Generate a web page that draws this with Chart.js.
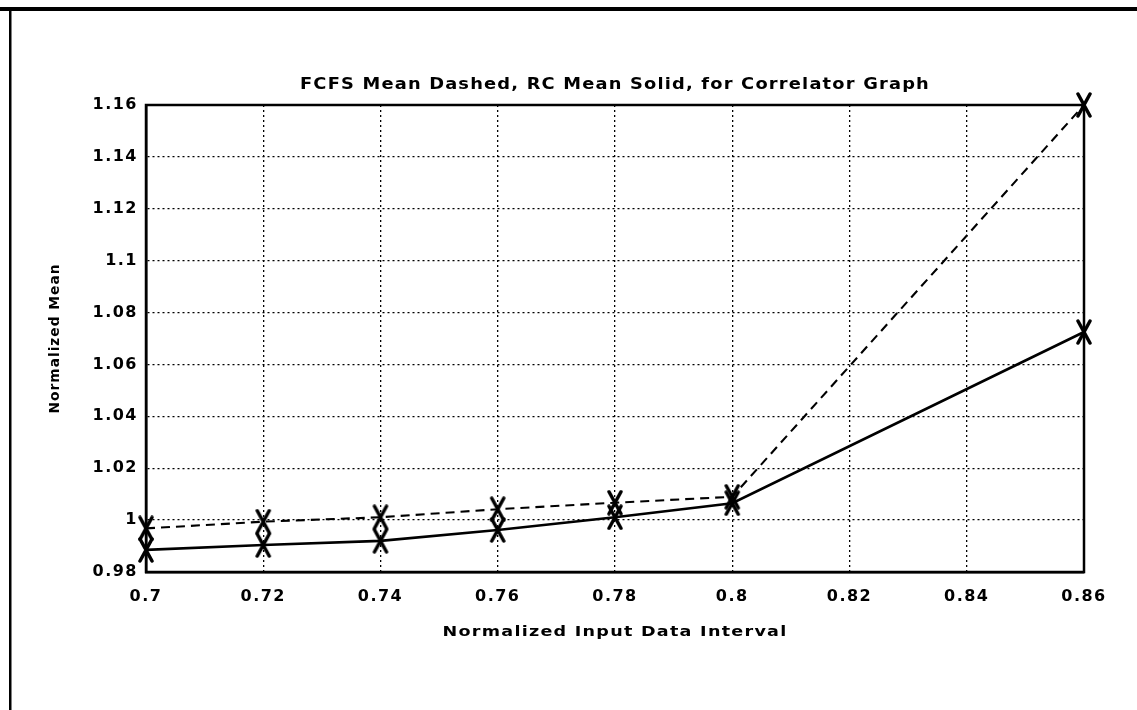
<!DOCTYPE html>
<html>
<head>
<meta charset="utf-8">
<title>FCFS / RC Mean</title>
<script src="https://cdn.jsdelivr.net/npm/chart.js@4.4.1/dist/chart.umd.min.js"></script>
<style>
    html, body { margin: 0; padding: 0; background: #fff; }
    #wrap { width: 1137px; height: 710px; }
</style>
</head>
<body>
<div id="wrap"><canvas id="meanChart" width="1137" height="710"></canvas></div>
<script>
// ── Data ──────────────────────────────────────────────────────────────────
const xValues  = [0.70, 0.72, 0.74, 0.76, 0.78, 0.80, 0.86];
const fcfsMean = [0.9968, 0.9994, 1.0011, 1.0042, 1.0067, 1.0090, 1.1600]; // dashed
const rcMean   = [0.9885, 0.9904, 0.9920, 0.9962, 1.0011, 1.0065, 1.0725]; // solid

const xTicks      = [0.70, 0.72, 0.74, 0.76, 0.78, 0.80, 0.82, 0.84, 0.86];
const xTickLabels = ['0.7', '0.72', '0.74', '0.76', '0.78', '0.8', '0.82', '0.84', '0.86'];
const yTicks      = [0.98, 1.00, 1.02, 1.04, 1.06, 1.08, 1.10, 1.12, 1.14, 1.16];
const yTickLabels = ['0.98', '1', '1.02', '1.04', '1.06', '1.08', '1.1', '1.12', '1.14', '1.16'];

const titleText  = 'FCFS Mean Dashed, RC Mean Solid, for Correlator Graph';
const xAxisLabel = 'Normalized Input Data Interval';
const yAxisLabel = 'Normalized Mean';

const FONT = '"DejaVu Sans", sans-serif';

// ── X marker (tall cross like the plotter output) ─────────────────────────
function makeCross() {
    const c = document.createElement('canvas');
    c.width = 18; c.height = 26;
    const g = c.getContext('2d');
    g.strokeStyle = '#000';
    g.lineWidth = 3.5;
    g.lineCap = 'round';
    g.beginPath();
    g.moveTo(3, 2);  g.lineTo(15, 24);
    g.moveTo(15, 2); g.lineTo(3, 24);
    g.stroke();
    return c;
}
const cross = makeCross();

// draw text stretched sideways to a given width (plotter font is wide)
function wideText(ctx, text, x, y, width) {
    const w = ctx.measureText(text).width;
    ctx.save();
    ctx.translate(x, y);
    ctx.scale(width / w, 1);
    ctx.fillText(text, 0, 0);
    ctx.restore();
}

// ── Title, axis labels, frame ─────────────────────────────────────────────
const decorations = {
    id: 'decorations',
    beforeDraw(chart) {
        const ctx = chart.ctx;
        ctx.save();
        ctx.fillStyle = '#fff';
        ctx.fillRect(0, 0, chart.width, chart.height);
        // page frame (top + left only)
        ctx.fillStyle = '#000';
        ctx.fillRect(0, 7, chart.width, 4);
        ctx.fillRect(9, 7, 2.5, chart.height - 7);
        ctx.restore();
        ctx.letterSpacing = '1.5px';
    },
    beforeDatasetsDraw(chart) {
        const { ctx, chartArea: a } = chart;
        ctx.save();
        ctx.strokeStyle = '#000';
        ctx.lineWidth = 2.5;
        ctx.strokeRect(a.left, a.top, a.right - a.left, a.bottom - a.top);
        ctx.restore();
    },
    afterDraw(chart) {
        const { ctx, chartArea: a } = chart;
        const cx = (a.left + a.right) / 2;
        ctx.save();
        ctx.fillStyle = '#000';
        ctx.textAlign = 'center';
        ctx.textBaseline = 'middle';

        ctx.letterSpacing = '1px';
        ctx.font = 'bold 15px ' + FONT;
        wideText(ctx, titleText, cx, 85, 630);

        ctx.font = 'bold 14px ' + FONT;
        wideText(ctx, xAxisLabel, cx, 632, 345);

        ctx.translate(55, (a.top + a.bottom) / 2);
        ctx.rotate(-Math.PI / 2);
        wideText(ctx, yAxisLabel, 0, 0, 150);
        ctx.restore();
    }
};

// ── Chart ─────────────────────────────────────────────────────────────────
new Chart(document.getElementById('meanChart').getContext('2d'), {
    type: 'line',
    data: {
        datasets: [
            {
                label: 'FCFS Mean',
                data: xValues.map((x, i) => ({ x: x, y: fcfsMean[i] })),
                borderColor: '#000',
                borderWidth: 2.1,
                borderDash: [9, 6],
                pointStyle: cross,
                pointRadius: 10,
                clip: false
            },
            {
                label: 'RC Mean',
                data: xValues.map((x, i) => ({ x: x, y: rcMean[i] })),
                borderColor: '#000',
                borderWidth: 2.7,
                pointStyle: cross,
                pointRadius: 10,
                clip: false
            }
        ]
    },
    options: {
        responsive: false,
        animation: false,
        layout: { padding: { left: 0, right: 53, top: 105, bottom: 0 } },
        plugins: {
            legend: { display: false },
            title: { display: false },
            tooltip: { enabled: false }
        },
        scales: {
            x: {
                type: 'linear',
                min: 0.7,
                max: 0.86,
                afterBuildTicks: axis => { axis.ticks = xTicks.map(v => ({ value: v })); },
                afterFit: axis => { axis.height = 138; },
                ticks: {
                    color: '#000',
                    font: { family: FONT, size: 16, weight: 'bold' },
                    padding: 15,
                    maxRotation: 0,
                    callback: (v, i) => xTickLabels[i]
                },
                grid: { color: '#000', lineWidth: 1.3, drawTicks: false },
                border: { display: true, color: '#000', width: 2.5, dash: [2, 3] }
            },
            y: {
                type: 'linear',
                min: 0.98,
                max: 1.16,
                afterBuildTicks: axis => { axis.ticks = yTicks.map(v => ({ value: v })); },
                afterFit: axis => { axis.width = 146; },
                ticks: {
                    color: '#000',
                    font: { family: FONT, size: 16, weight: 'bold' },
                    padding: 8,
                    callback: (v, i) => yTickLabels[i]
                },
                grid: { color: '#000', lineWidth: 1.3, drawTicks: false },
                border: { display: true, color: '#000', width: 2.5, dash: [2, 3] }
            }
        }
    },
    plugins: [decorations]
});
</script>
</body>
</html>
